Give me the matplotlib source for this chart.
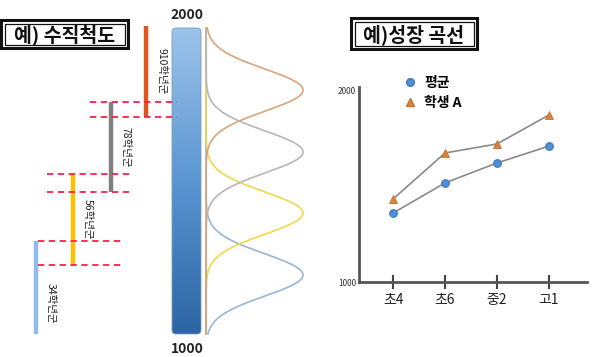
import numpy as np
import matplotlib
matplotlib.use("Agg")
import matplotlib.pyplot as plt
from matplotlib.patches import Rectangle, FancyBboxPatch
from matplotlib.colors import LinearSegmentedColormap
from matplotlib.lines import Line2D

plt.rcParams['font.family'] = ['Noto Sans CJK KR', 'DejaVu Sans']

# ---------------- data ----------------
# left: vertical scale
scale_min, scale_max = 1000, 2000
band_labels = ["34학년군", "56학년군", "78학년군", "910학년군"]
band_low = [1000, 1225, 1464, 1709]
band_high = [1304, 1523, 1758, 2007]
curve_peaks = [1193, 1395, 1595, 1797]
curve_sigma = 69

# right: growth curve
categories = ["초4", "초6", "중2", "고1"]
avg_values = [1359, 1516, 1620, 1708]
student_values = [1432, 1672, 1719, 1870]
series_names = ["평균", "학생 A"]

# ---------------- figure ----------------
fig = plt.figure(figsize=(6, 3.57), dpi=100)
fig.patch.set_facecolor("white")

# pixel -> value mapping for left panel (y=28 -> 2000, y=334 -> 1000)
upp = 1000 / 306.0
ytop = 2000 + 28 * upp
ybot = 1000 - (357 - 334) * upp

axL = fig.add_axes([0, 0, 320 / 600, 1])
axL.set_xlim(0, 320)
axL.set_ylim(ybot, ytop)
axL.axis("off")

bar_x = [36, 73, 111, 146]
bar_colors = ["#8fbcf0", "#ffc000", "#808080", "#e0561e"]
label_x = [51, 88, 125, 161]
dash_spans = [(38, 122), (47, 133), (90, 177)]
for i in range(4):
    axL.vlines(bar_x[i], band_low[i], band_high[i], color=bar_colors[i], lw=3.2, zorder=3)
    axL.text(label_x[i], (band_low[i] + band_high[i]) / 2 if i > 0 else 1101,
             band_labels[i], rotation=-90, ha="center", va="center",
             fontsize=7.5, color="#222222")
# dashed boundaries: overlap between consecutive bands
for i in range(3):
    x0, x1 = dash_spans[i]
    for v in (band_low[i + 1], band_high[i]):
        axL.hlines(v, x0, x1, color="#ff1e4a", lw=1.3, linestyles=(0, (3.5, 2.5)), zorder=4)

# gradient bar
cmap = LinearSegmentedColormap.from_list("g", ["#2c64a4", "#5b95d2", "#9dc4ea"])
grad = np.linspace(0, 1, 256).reshape(-1, 1)
im = axL.imshow(grad, extent=[172, 201, scale_min, scale_max], origin="lower",
                aspect="auto", cmap=cmap, zorder=2)
patch = FancyBboxPatch((172, scale_min), 29, scale_max - scale_min,
                       boxstyle="round,pad=0,rounding_size=4", mutation_aspect=upp,
                       fc="none", ec="#7a9cc0", lw=0.6, zorder=2.5)
axL.add_patch(patch)
im.set_clip_path(patch)
axL.set_xlim(0, 320)
axL.set_ylim(ybot, ytop)
axL.text(187, scale_max + 6 * upp, str(scale_max), ha="center", va="bottom",
         fontsize=10, fontweight="bold", color="#222222")
axL.text(187, scale_min - 8 * upp, str(scale_min), ha="center", va="top",
         fontsize=10, fontweight="bold", color="#222222")

# bell curves
curve_colors = ["#9ab6d6", "#f0d848", "#b8b6bc", "#d8a47c"]
yy = np.linspace(scale_min, scale_max, 400)
axL.vlines(206, scale_min, scale_max, color="#c9d3de", lw=1.0, zorder=1)
for p, c in zip(curve_peaks, curve_colors):
    xx = 206 + 97 * np.exp(-((yy - p) ** 2) / (2 * curve_sigma ** 2))
    axL.plot(xx, yy, color=c, lw=1.2, zorder=2)

# ---------------- right chart ----------------
x = np.arange(len(categories))
px_per = 52.0
axR = fig.add_axes([359 / 600, (357 - 282) / 357, (587 - 359) / 600, (282 - 87) / 357])
axR.plot(x, avg_values, color="#8a8a8a", lw=1.2, zorder=2)
axR.plot(x, student_values, color="#8a8a8a", lw=1.2, zorder=2)
axR.plot(x, avg_values, ls="none", marker="o", ms=5.5, mfc="#4f8fd6", mec="#3a78c0",
         mew=0.8, zorder=3)
axR.plot(x, student_values, ls="none", marker="^", ms=6, mfc="#d9823a", mec="#c87030",
         mew=0.6, zorder=3)
axR.set_xlim((359 - 393) / px_per, (587 - 393) / px_per)
axR.set_ylim(1000, 1000 + 195 / 192 * 1000)
for s in ("top", "right"):
    axR.spines[s].set_visible(False)
for s in ("left", "bottom"):
    axR.spines[s].set_color("#555555")
    axR.spines[s].set_linewidth(2)
axR.set_yticks([1000, 2000])
axR.set_yticklabels(["1000", "2000"], fontsize=6, color="#333333")
axR.tick_params(axis="y", length=0, pad=2)
axR.set_xticks(x)
axR.set_xticklabels(categories, fontsize=10, color="#222222")
axR.tick_params(axis="x", direction="inout", length=10, width=1.5, color="#444444", pad=3)
axR.set_facecolor("none")

handles = [Line2D([], [], ls="none", marker="o", ms=5.5, mfc="#4f8fd6", mec="#3a78c0"),
           Line2D([], [], ls="none", marker="^", ms=6, mfc="#d9823a", mec="#c87030")]
fig.legend(handles, series_names, loc="upper left", bbox_to_anchor=(395 / 600, 1 - 69 / 357),
           frameon=False, fontsize=10, handletextpad=0.4, labelspacing=0.45,
           handlelength=1.2, borderpad=0, prop={"weight": "bold", "size": 10})

# ---------------- title boxes (pixel overlay) ----------------
axO = fig.add_axes([0, 0, 1, 1])
axO.set_xlim(0, 600)
axO.set_ylim(357, 0)
axO.axis("off")
for (bx0, by0, bx1, by1, txt) in [(1, 20, 128, 48, "예) 수직척도"),
                                  (351, 18, 477, 49, "예)성장 곡선")]:
    axO.add_patch(Rectangle((bx0, by0), bx1 - bx0, by1 - by0, fill=False, ec="#111111", lw=2.2))
    axO.add_patch(Rectangle((bx0 + 3.5, by0 + 3.5), bx1 - bx0 - 7, by1 - by0 - 7,
                            fill=False, ec="#111111", lw=0.9))
    axO.text((bx0 + bx1) / 2, (by0 + by1) / 2 + 1, txt, ha="center", va="center",
             fontsize=14, fontweight="bold", color="#111111")

fig.savefig("out.png", dpi=100, facecolor="white")
